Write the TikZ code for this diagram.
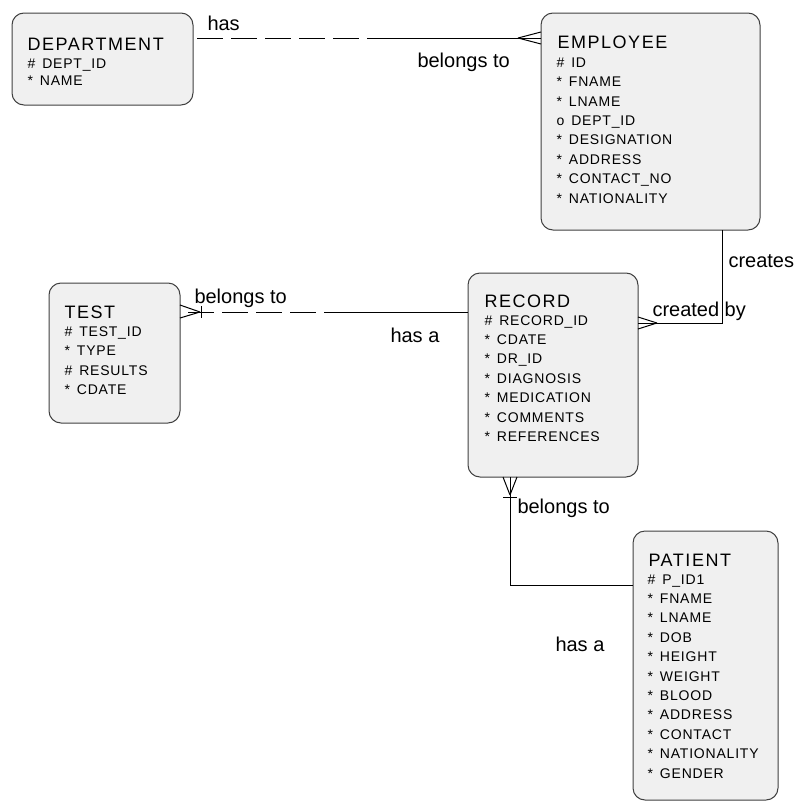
\documentclass[tikz,border=0pt]{standalone}
\usepackage{fontspec}
\setmainfont{Liberation Sans}
\newfontfamily\titlefont[LetterSpace=8.6]{Liberation Sans}
\newfontfamily\attrfont[LetterSpace=5.7]{Liberation Sans}
\usetikzlibrary{calc}
\definecolor{boxgray}{RGB}{240,240,240}
\definecolor{edgegray}{RGB}{64,64,64}
% key / mandatory / optional marks in front of an attribute
\newcommand{\pk}{\#\enskip}
\newcommand{\mand}{*\enskip}
\newcommand{\opt}{o\enskip}

\begin{document}
\begin{tikzpicture}[x=0.75pt,y=-0.75pt,line width=0.75pt,
  entity/.style={draw=edgegray,fill=boxgray,rounded corners=9pt,inner sep=0pt,outer sep=0pt,anchor=north west},
  ttl/.style={anchor=base west,inner sep=0pt,font=\titlefont\fontsize{13.5}{16}\selectfont},
  attrs/.style={anchor=base west,inner sep=0pt,align=left,font=\attrfont\fontsize{10.5}{14.55}\selectfont},
  lbl/.style={anchor=base west,inner sep=0pt,font=\fontsize{15}{18}\selectfont},
  optline/.style={dash pattern=on 19.5pt off 6pt}]
\useasboundingbox (0,0) rectangle (796,803);

% entities
\node[entity,minimum width=135.75pt,minimum height=69pt] (dept) at (12,13) {};
\node[entity,minimum width=164.25pt,minimum height=162.75pt] (emp) at (541,13) {};
\node[entity,minimum width=98.25pt,minimum height=105pt] (test) at (49,283) {};
\node[entity,minimum width=127.5pt,minimum height=153pt] (rec) at (468,273) {};
\node[entity,minimum width=108.75pt,minimum height=201.75pt] (pat) at (633,531) {};

% titles sit on their baseline, attribute lists on the baseline of their last line
\node[ttl] (deptT) at (27,50) {DEPARTMENT};
\node[attrs,font=\attrfont\fontsize{10.5}{12.75}\selectfont] (deptA) at (27,85) {\pk DEPT\_ID\\\mand NAME};
\node[ttl] (empT) at (557,48) {EMPLOYEE};
\node[attrs] (empA) at (556,203) {\pk ID\\\mand FNAME\\\mand LNAME\\\opt DEPT\_ID\\\mand DESIGNATION\\\mand ADDRESS\\\mand CONTACT\_NO\\\mand NATIONALITY};
\node[ttl] (testT) at (64,318) {TEST};
\node[attrs] (testA) at (64,394.5) {\pk TEST\_ID\\\mand TYPE\\\pk RESULTS\\\mand CDATE};
\node[ttl] (recT) at (484,307) {RECORD};
\node[attrs] (recA) at (484,441.5) {\pk RECORD\_ID\\\mand CDATE\\\mand DR\_ID\\\mand DIAGNOSIS\\\mand MEDICATION\\\mand COMMENTS\\\mand REFERENCES};
\node[ttl] (patT) at (648,566) {PATIENT};
\node[attrs] (patA) at (647,778) {\pk P\_ID1\\\mand FNAME\\\mand LNAME\\\mand DOB\\\mand HEIGHT\\\mand WEIGHT\\\mand BLOOD\\\mand ADDRESS\\\mand CONTACT\\\mand NATIONALITY\\\mand GENDER};

% department -- employee
\coordinate (m1) at (367,38);
\draw[optline,dash phase=22.5pt] (dept.east |- m1) -- (m1);
\draw (m1) -- (emp.west |- m1);
\coordinate (t1) at ($(emp.west |- m1)+(-23,0)$);
\draw (t1) -- +(23,-6) (t1) -- +(23,6);
\node[lbl] (hasL) at (207,30) {has};
\node[lbl] (belL) at (417,67) {belongs to};

% employee -- record
\coordinate (k2) at (722,323);
\draw (emp.south -| k2) -- (k2) -- (rec.east |- k2);
\coordinate (t2) at ($(rec.east |- k2)+(19,0)$);
\draw (t2) -- +(-19,-6) (t2) -- +(-19,6);
\node[lbl] (creL) at (728,267) {creates};
\node[lbl] (crbL) at (652,316) {created by};

% test -- record
\coordinate (m3) at (324,312);
\draw[optline,dash phase=19.5pt] (test.east |- m3) -- (m3);
\draw (m3) -- (rec.west |- m3);
\coordinate (t3) at ($(test.east |- m3)+(20,0)$);
\draw (t3) -- +(-20,-7) (t3) -- +(-20,6);
\draw ($(t3)+(1,-6)$) -- +(0,12);
\node[lbl] (belT) at (194,303) {belongs to};
\node[lbl] (hasT) at (390,342) {has a};

% record -- patient
\coordinate (k4) at (510,585);
\draw (rec.south -| k4) -- (k4) -- (pat.west |- k4);
\coordinate (t4) at ($(rec.south -| k4)+(0,18)$);
\draw (t4) -- +(-7,-18) (t4) -- +(7,-18);
\draw ($(t4)+(-7,2)$) -- +(14,0);
\node[lbl] (belP) at (517,513) {belongs to};
\node[lbl] (hasP) at (555,651) {has a};
\end{tikzpicture}
\end{document}
